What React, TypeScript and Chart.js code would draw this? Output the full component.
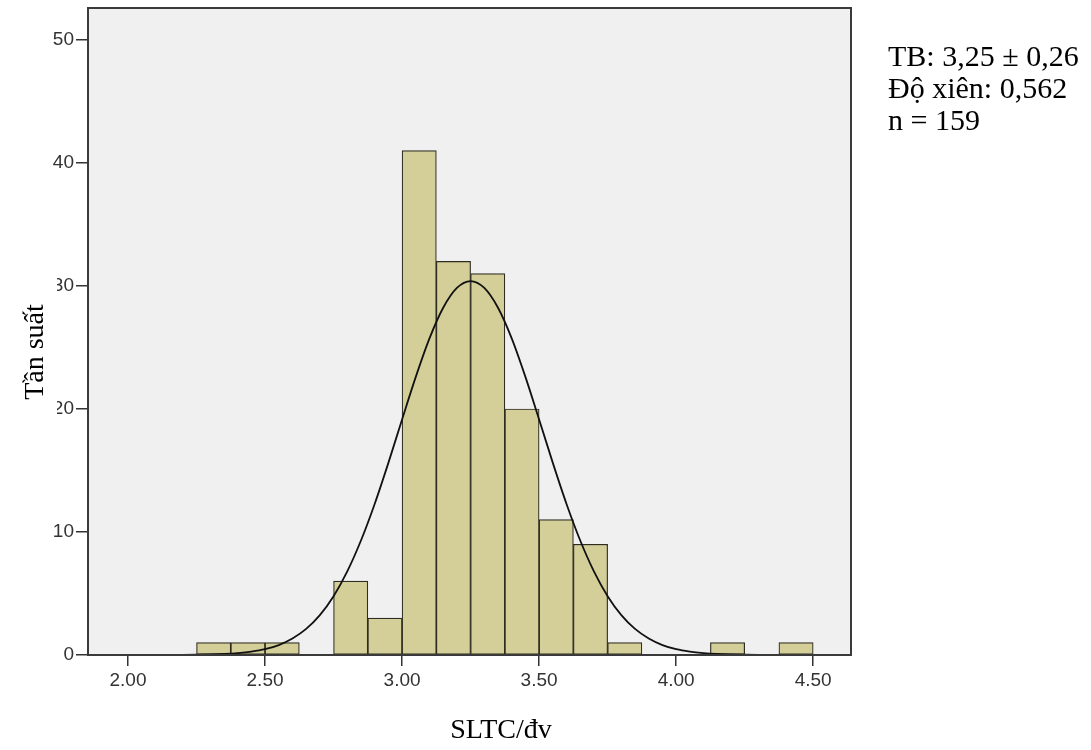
import React, { useEffect, useRef } from "react";
import { Chart, registerables } from "chart.js";

Chart.register(...registerables);

// Histogram bins (width 0.125) – centres and counts
const BIN_CENTERS = [
  2.3125, 2.4375, 2.5625, 2.6875, 2.8125, 2.9375, 3.0625, 3.1875, 3.3125,
  3.4375, 3.5625, 3.6875, 3.8125, 3.9375, 4.0625, 4.1875, 4.3125, 4.4375,
];
const BIN_COUNTS = [1, 1, 1, 0, 6, 3, 41, 32, 31, 20, 11, 9, 1, 0, 0, 1, 0, 1];

// Normal curve overlay
const CURVE_X = [
  1.9, 2.2, 2.25, 2.3, 2.35, 2.4, 2.45, 2.5, 2.55, 2.6, 2.65, 2.7, 2.75, 2.8,
  2.85, 2.9, 2.95, 3.0, 3.05, 3.1, 3.15, 3.2, 3.25, 3.3, 3.35, 3.4, 3.45, 3.5,
  3.55, 3.6, 3.65, 3.7, 3.75, 3.8, 3.85, 3.9, 3.95, 4.0, 4.05, 4.1, 4.15,
  4.2, 4.25, 4.3, 4.6,
];
const CURVE_Y = [
  0, 0.01, 0.02, 0.04, 0.08, 0.15, 0.27, 0.47, 0.81, 1.34, 2.12, 3.24, 4.78,
  6.8, 9.31, 12.28, 15.62, 19.15, 22.61, 25.74, 28.23, 29.84, 30.4, 29.84,
  28.23, 25.74, 22.61, 19.15, 15.62, 12.28, 9.31, 6.8, 4.78, 3.24, 2.12,
  1.34, 0.81, 0.47, 0.27, 0.15, 0.08, 0.04, 0.02, 0.01, 0,
];

const X_TICKS = [2.0, 2.5, 3.0, 3.5, 4.0, 4.5];
const Y_TICKS = [0, 10, 20, 30, 40, 50];

const X_MIN = 1.854;
const X_MAX = 4.638;
const Y_MIN = 0;
const Y_MAX = 52.6;

const STATS_LINES = ["TB: 3,25 ± 0,26", "Độ xiên: 0,562", "n = 159"];
const X_TITLE = "SLTC/đv";
const Y_TITLE = "Tần suất";

const SERIF = "'Liberation Serif', 'Times New Roman', serif";
const SANS = "'Liberation Sans', Arial, sans-serif";

const boxPlugin = {
  id: "plotBox",
  beforeDraw(chart: any) {
    const { ctx, chartArea: a } = chart;
    ctx.save();
    ctx.fillStyle = "#F0F0F0";
    ctx.fillRect(a.left, a.top, a.right - a.left, a.bottom - a.top);
    ctx.restore();
  },
  afterDatasetsDraw(chart: any) {
    const { ctx, chartArea: a } = chart;
    ctx.save();
    ctx.strokeStyle = "#3a3a3a";
    ctx.lineWidth = 2;
    ctx.strokeRect(a.left, a.top, a.right - a.left, a.bottom - a.top);
    ctx.restore();
  },
};

export default function App() {
  const ref = useRef<HTMLCanvasElement | null>(null);

  useEffect(() => {
    if (!ref.current) return;
    const chart = new Chart(ref.current, {
      type: "bar",
      data: {
        datasets: [
          {
            type: "line",
            data: CURVE_X.map((x, i) => ({ x, y: CURVE_Y[i] })),
            borderColor: "#111111",
            borderWidth: 1.8,
            pointRadius: 0,
            cubicInterpolationMode: "monotone",
            fill: false,
            order: 0,
          } as any,
          {
            type: "bar",
            data: BIN_CENTERS.map((x, i) => ({ x, y: BIN_COUNTS[i] })),
            backgroundColor: "#D4CF99",
            borderColor: "#2f2d22",
            borderWidth: 1.2,
            borderSkipped: false,
            barPercentage: 1,
            categoryPercentage: 1,
            order: 1,
          } as any,
        ],
      },
      options: {
        animation: false,
        responsive: true,
        maintainAspectRatio: false,
        layout: { padding: { top: 8, right: 240, left: 0, bottom: 0 } },
        plugins: {
          legend: { display: false },
          tooltip: { enabled: false },
        },
        scales: {
          x: {
            type: "linear",
            min: X_MIN,
            max: X_MAX,
            offset: false,
            afterBuildTicks: (axis: any) => {
              axis.ticks = X_TICKS.map((v) => ({ value: v }));
            },
            afterFit: (axis: any) => {
              axis.height = 95;
              axis.paddingLeft = 0;
              axis.paddingRight = 0;
            },
            ticks: {
              autoSkip: false,
              maxRotation: 0,
              padding: 3,
              color: "#333333",
              font: { family: SANS, size: 19 },
              callback: (v: any) => Number(v).toFixed(2),
            },
            grid: {
              display: true,
              drawOnChartArea: false,
              drawTicks: true,
              tickLength: 11,
              color: "#333333",
              lineWidth: 1.5,
              offset: false,
            },
            border: { display: false },
          },
          y: {
            type: "linear",
            min: Y_MIN,
            max: Y_MAX,
            afterBuildTicks: (axis: any) => {
              axis.ticks = Y_TICKS.map((v) => ({ value: v }));
            },
            afterFit: (axis: any) => {
              axis.width = 88;
              axis.paddingTop = 0;
              axis.paddingBottom = 0;
            },
            ticks: {
              padding: 2,
              color: "#333333",
              font: { family: SANS, size: 19 },
            },
            grid: {
              display: true,
              drawOnChartArea: false,
              drawTicks: true,
              tickLength: 12,
              color: "#333333",
              lineWidth: 1.5,
            },
            border: { display: false },
          },
        },
      },
      plugins: [boxPlugin],
    });
    return () => chart.destroy();
  }, []);

  return (
    <div
      style={{
        position: "absolute",
        left: 0,
        top: 0,
        width: 1091,
        height: 750,
        background: "#ffffff",
        fontFamily: SERIF,
        color: "#000",
      }}
    >
      <canvas ref={ref} />
      {/* white text box behind the y title (overlaps the tick labels as in the original) */}
      <div
        style={{
          position: "absolute",
          left: 0,
          top: 272,
          width: 57,
          height: 152,
          background: "#ffffff",
        }}
      />
      <div
        style={{
          position: "absolute",
          left: 34 - 100,
          top: 352 - 20,
          width: 200,
          height: 40,
          lineHeight: "40px",
          fontSize: 28,
          textAlign: "center",
          whiteSpace: "nowrap",
          transform: "rotate(-90deg)",
          transformOrigin: "50% 50%",
        }}
      >
        {Y_TITLE}
      </div>
      <div
        style={{
          position: "absolute",
          left: 401,
          top: 712,
          width: 200,
          lineHeight: "34px",
          fontSize: 28,
          textAlign: "center",
          whiteSpace: "nowrap",
        }}
      >
        {X_TITLE}
      </div>
      <div
        style={{
          position: "absolute",
          left: 888,
          top: 40,
          fontSize: 30,
          lineHeight: "32px",
          whiteSpace: "nowrap",
        }}
      >
        {STATS_LINES.map((s) => (
          <div key={s}>{s}</div>
        ))}
      </div>
    </div>
  );
}
